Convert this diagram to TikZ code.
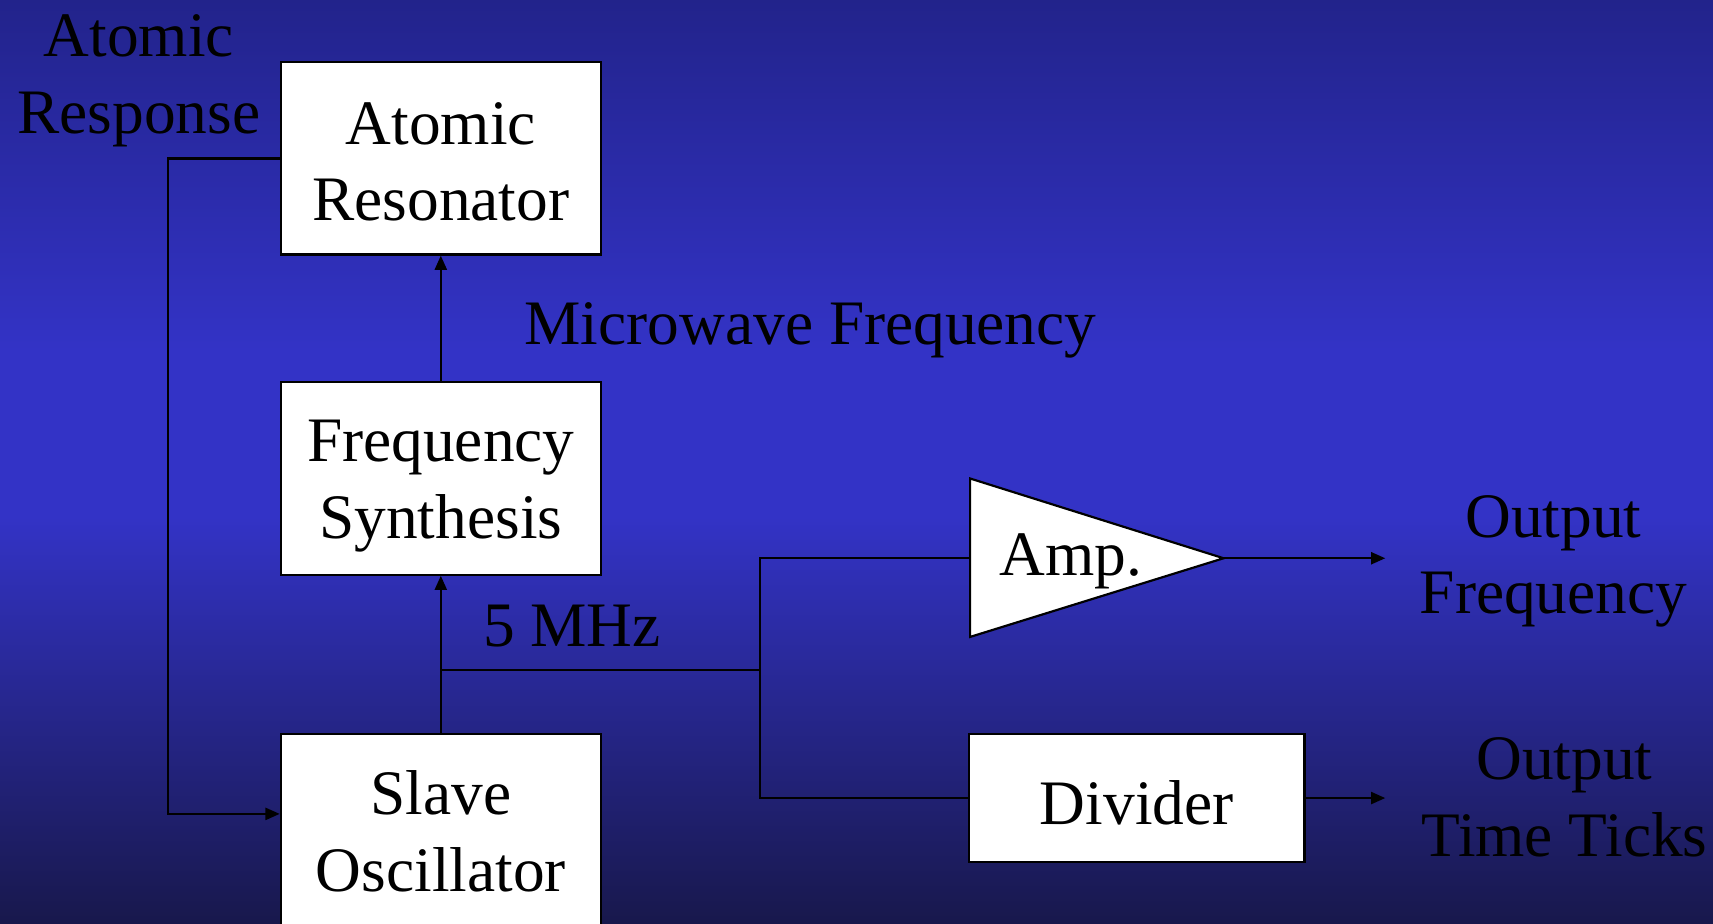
\documentclass[tikz,border=0pt]{standalone}
\usepackage{fontspec}
\setmainfont{Liberation Serif}
\usetikzlibrary{arrows.meta}
\definecolor{bgtop}{HTML}{22238B}
\definecolor{bgmid}{HTML}{3333C6}
\definecolor{bgbot}{HTML}{18184C}
% the path bounding box maps onto 25bp..75bp of the shading
\pgfdeclareverticalshading{bgshade}{100bp}{color(0bp)=(bgbot); color(25bp)=(bgbot); color(47bp)=(bgmid); color(56bp)=(bgmid); color(75bp)=(bgtop); color(100bp)=(bgtop)}
\tikzset{
  txt/.style={font=\fontsize{58}{70}\selectfont, inner sep=0pt, align=center, text=black},
  blockbox/.style={draw=black, fill=white, line width=2pt, minimum width=293pt, minimum height=176pt, inner sep=0pt},
  wire/.style={draw=black, line width=2pt},
  arr/.style={wire, -{Triangle[length=13pt,width=11pt]}}
}
\begin{document}
\begin{tikzpicture}[x=1pt,y=-1pt]
\useasboundingbox (0,0) rectangle (1568,845);
\clip (0,0) rectangle (1568,845);
\fill[shading=bgshade] (0,0) rectangle (1568,845);

% blocks
\node[blockbox] (ar) at (403.5,145) {};
\node[txt] (artxt) at (403.5,148) {Atomic\\Resonator};
\node[blockbox] (fs) at (403.5,438) {};
\node[txt] (fstxt) at (403.5,445) {Frequency\\Synthesis};
\node[blockbox, minimum height=180pt] (so) at (403.5,762) {};
\node[txt] (sotxt) at (403.5,761) {Slave\\Oscillator};
\node[blockbox, minimum width=307pt, minimum height=117pt] (div) at (1040.5,730.5) {};
\node[txt, anchor=base] (divtxt) at (1040.5,755) {Divider};

% amplifier
\coordinate (ampin) at (888,511);
\coordinate (ampout) at (1120,511);
\draw[line width=2pt, fill=white] (888,438) -- (ampout) -- (888,583) -- cycle;
\node[txt, anchor=base west] (amptxt) at (915,527) {Amp.};

% labels
\node[txt] (resp) at (127,74) {Atomic\\Response};
\node[txt, anchor=base west] (mw) at (480,315) {Microwave Frequency};
\node[txt, anchor=base west] (mhz) at (442,592) {5 MHz};
\node[txt] (ofr) at (1422,514) {Output\\Frequency};
\node[txt] (otk) at (1432,730) {Output\\Time Ticks};

% connectors
\coordinate (fb) at (154,745);
\coordinate (br) at (403.5,613);
\coordinate (jn) at (696,613);
\coordinate (oend) at (1268,511);

\draw[arr] (fs.north) -- (ar.south);
\draw[arr] (so.north) -- (fs.south);
\draw[arr] (ar.west) -| (fb) -- (fb -| so.west);
\draw[wire] (br) -- (jn);
\draw[wire] (ampin) -- (ampin -| jn) -- (div.west -| jn) -- (div.west);
\draw[arr] (ampout) -- (oend);
\draw[arr] (div.east) -- (div.east -| oend);
\end{tikzpicture}
\end{document}
